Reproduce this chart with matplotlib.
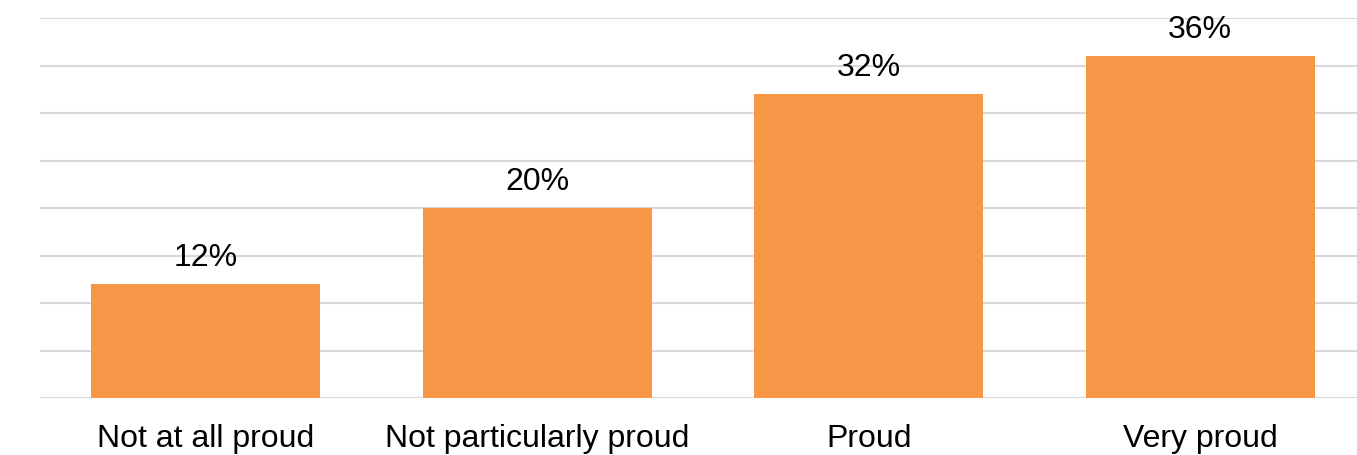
import matplotlib
matplotlib.use("Agg")
import matplotlib.pyplot as plt

categories = ["Not at all proud", "Not particularly proud", "Proud", "Very proud"]
values = [12, 20, 32, 36]
value_labels = ["12%", "20%", "32%", "36%"]

plt.rcParams["font.family"] = ["Liberation Sans", "DejaVu Sans"]

fig = plt.figure(figsize=(13.57, 4.55), dpi=100)
ax = fig.add_axes([40 / 1357, 57 / 455, 1326 / 1357, 380 / 455])

x = range(len(categories))
bars = ax.bar(x, values, width=0.69, color="#F79646", zorder=3)

ax.set_xlim(-0.5, len(categories) - 0.5)
ax.set_ylim(0, 40)
ax.set_yticks(range(0, 41, 5))
ax.yaxis.grid(True, color="#d9d9d9", linewidth=1.5, zorder=0)
ax.set_yticklabels([])
ax.tick_params(axis="y", length=0)
ax.tick_params(axis="x", length=0, pad=19, labelsize=23)
ax.set_xticks(list(x))
ax.set_xticklabels(categories)
for spine in ax.spines.values():
    spine.set_visible(False)

for bar, lab in zip(bars, value_labels):
    ax.annotate(lab, (bar.get_x() + bar.get_width() / 2, bar.get_height()),
                xytext=(0, 8), textcoords="offset points",
                ha="center", va="bottom", fontsize=23)

fig.savefig("out.png", dpi=100)
